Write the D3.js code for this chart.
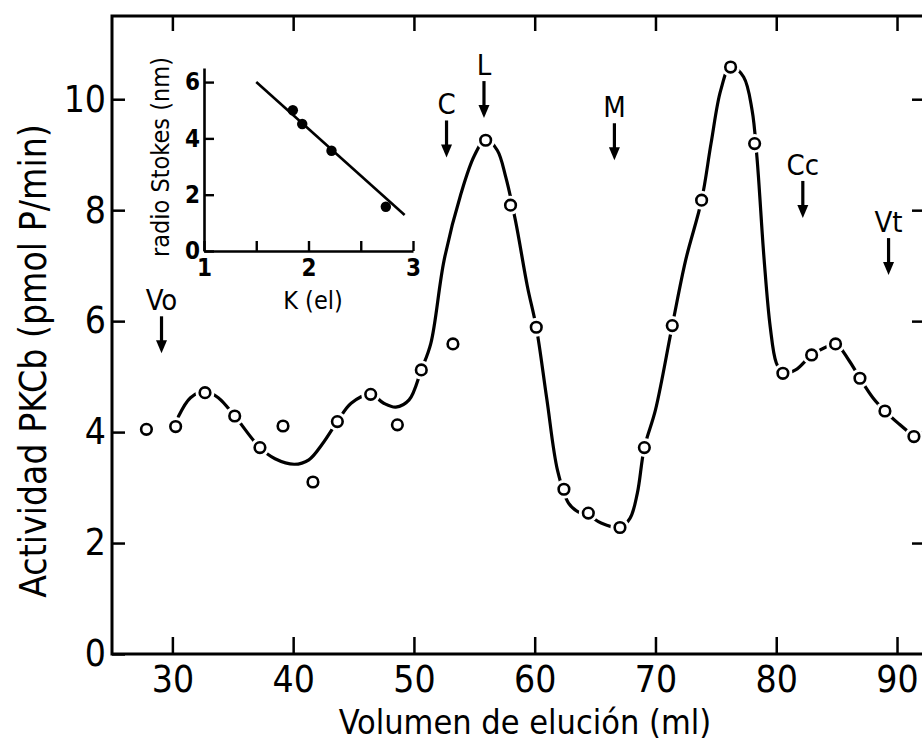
<!DOCTYPE html>
<html>
<head>
<meta charset="utf-8">
<script src="https://cdn.jsdelivr.net/npm/d3@7/dist/d3.min.js"></script>
<style>
  html, body { margin: 0; padding: 0; background: #fff; }
  svg { display: block; }
</style>
</head>
<body>
<svg id="chart" width="922" height="748"></svg>
<script>
// ---- Elution profile: fractions collected from the gel-filtration column ----
const volume = [27.85, 30.27, 32.70, 35.16, 37.25, 39.16, 41.64, 43.66, 46.42, 48.63,
                50.61, 53.23, 55.94, 58.00, 60.13, 62.42, 64.44, 67.06, 69.08, 71.39,
                73.82, 76.22, 78.21, 80.55, 82.93, 84.91, 86.93, 89.00, 91.40];
const activity = [4.05, 4.10, 4.71, 4.29, 3.72, 4.11, 3.10, 4.19, 4.68, 4.13,
                  5.12, 5.59, 9.26, 8.09, 5.89, 2.97, 2.54, 2.28, 3.72, 5.92,
                  8.18, 10.58, 9.20, 5.06, 5.39, 5.59, 4.97, 4.38, 3.92];

// Hand-drawn smooth profile through the fractions
const fitVolume = [30.5, 31.5, 32.7, 33.8, 35.16, 37.25, 38.5, 40.1, 41.3, 42.4,
                   43.66, 44.8, 46.42, 47.5, 48.5, 49.6, 50.61, 51.4, 52.5, 53.9,
                   55.0, 55.94, 56.9, 57.6, 58.4, 59.4, 60.13, 61.0, 61.9, 62.8,
                   63.6, 64.44, 65.5, 67.06, 67.9, 68.5, 69.08, 70.0, 71.39, 72.5,
                   73.82, 74.6, 75.4, 76.22, 77.3, 78.0, 78.4, 79.0, 79.5, 80.0,
                   80.55, 81.6, 82.93, 84.0, 84.91, 86.0, 86.93, 88.0, 89.0, 90.2, 91.4];
const fitActivity = [4.28, 4.62, 4.74, 4.62, 4.29, 3.72, 3.52, 3.42, 3.50, 3.78,
                     4.19, 4.52, 4.68, 4.52, 4.45, 4.58, 5.12, 5.60, 7.10, 8.30,
                     8.98, 9.28, 9.08, 8.60, 7.82, 6.62, 5.89, 4.60, 3.30, 2.72,
                     2.56, 2.50, 2.36, 2.28, 2.45, 2.90, 3.72, 4.40, 5.92, 7.10,
                     8.18, 9.20, 10.16, 10.60, 10.40, 9.80, 8.96, 7.10, 5.90, 5.25,
                     5.06, 5.12, 5.39, 5.52, 5.59, 5.30, 4.97, 4.62, 4.38, 4.14, 3.92];

// Calibration markers (void volume, standards, total volume)
const markerLabels = ["Vo", "C", "L", "M", "Cc", "Vt"];
const markerVolume = [29.1, 52.7, 55.8, 66.6, 82.2, 89.3];
const markerLevel  = [5.42, 8.95, 9.66, 8.90, 7.86, 6.83];

const xTicks = [30, 40, 50, 60, 70, 80, 90];
const yTicks = [0, 2, 4, 6, 8, 10];

// ---- Inset: Stokes radius of the standards vs. K(el) ----
const stdK      = [1.85, 1.94, 2.22, 2.74];
const stdRadius = [5.00, 4.51, 3.56, 1.57];
const calK      = [1.50, 2.92];
const calRadius = [6.00, 1.28];
const insetXTicks = [1, 1.5, 2, 2.5, 3];
const insetYTicks = [0, 2, 4, 6];

const FONT = '"DejaVu Sans Condensed", "DejaVu Sans", sans-serif';
const svg = d3.select("#chart");

// Main scales
const x = d3.scaleLinear().domain([25, 92.4]).range([112, 926]);
const y = d3.scaleLinear().domain([0, 11.5]).range([654, 16]);

// Frame
svg.append("rect")
  .attr("x", x(25)).attr("y", y(11.5))
  .attr("width", x(92.4) - x(25)).attr("height", y(0) - y(11.5))
  .attr("fill", "none").attr("stroke", "#000").attr("stroke-width", 3);

function styleAxis(g, size) {
  g.attr("font-family", FONT).attr("font-size", size);
  g.select(".domain").remove();
  g.selectAll(".tick line").attr("stroke", "#000").attr("stroke-width", 2.5);
  g.selectAll(".tick text").attr("fill", "#000");
}

svg.append("g").attr("transform", `translate(0,${y(0)})`)
  .call(d3.axisBottom(x).tickValues(xTicks).tickSizeInner(-17).tickSizeOuter(0).tickPadding(12))
  .call(g => styleAxis(g, 37));
svg.append("g").attr("transform", `translate(0,${y(11.5)})`)
  .call(d3.axisTop(x).tickValues(xTicks).tickSizeInner(-15).tickSizeOuter(0).tickFormat(""))
  .call(g => styleAxis(g, 10));
svg.append("g").attr("transform", `translate(${x(25)},0)`)
  .call(d3.axisLeft(y).tickValues(yTicks).tickSizeInner(-13).tickSizeOuter(0).tickPadding(6))
  .call(g => styleAxis(g, 37));
svg.append("g").attr("transform", `translate(${x(92.4)},0)`)
  .call(d3.axisRight(y).tickValues(yTicks.slice(1)).tickSizeInner(-14).tickSizeOuter(0).tickFormat(""))
  .call(g => styleAxis(g, 10));

// Axis titles
svg.append("text")
  .attr("x", 525).attr("y", 734)
  .attr("text-anchor", "middle").attr("font-family", FONT).attr("font-size", 34)
  .text("Volumen de elución (ml)");
svg.append("text")
  .attr("transform", "translate(46,361) rotate(-90)")
  .attr("text-anchor", "middle").attr("font-family", FONT).attr("font-size", 37)
  .text("Actividad PKCb (pmol P/min)");

// Fitted profile
const profile = d3.range(fitVolume.length).map(i => [fitVolume[i], fitActivity[i]]);
svg.append("path")
  .datum(profile)
  .attr("fill", "none").attr("stroke", "#000").attr("stroke-width", 3.2)
  .attr("stroke-linecap", "round")
  .attr("d", d3.line().x(d => x(d[0])).y(d => y(d[1])).curve(d3.curveCatmullRom.alpha(0.5)));

// Fractions: open circles, with a white halo that breaks the line around them
const fractions = d3.range(volume.length).map(i => ({ v: volume[i], a: activity[i] }));
svg.append("g").selectAll("circle").data(fractions).join("circle")
  .attr("cx", d => x(d.v)).attr("cy", d => y(d.a)).attr("r", 9.5)
  .attr("fill", "#fff");
svg.append("g").selectAll("circle").data(fractions).join("circle")
  .attr("cx", d => x(d.v)).attr("cy", d => y(d.a)).attr("r", 5.3)
  .attr("fill", "#fff").attr("stroke", "#000").attr("stroke-width", 2.6);

// Calibration arrows
const markers = markerLabels.map((m, i) => ({ label: m, v: markerVolume[i], level: markerLevel[i] }));
const mk = svg.append("g").selectAll("g").data(markers).join("g")
  .attr("transform", d => `translate(${x(d.v)},${y(d.level)})`);
mk.append("line")
  .attr("x1", 0).attr("x2", 0).attr("y1", -37).attr("y2", -9)
  .attr("stroke", "#000").attr("stroke-width", 3.2);
mk.append("path")
  .attr("d", "M-5.5,-13 L5.5,-13 L0,0 Z").attr("fill", "#000");
mk.append("text")
  .attr("y", -43).attr("text-anchor", "middle")
  .attr("font-family", FONT).attr("font-size", 29)
  .text(d => d.label);

// ---- Inset ----
const xi = d3.scaleLinear().domain([1, 3]).range([204, 413]);
const yi = d3.scaleLinear().domain([0, 6.5]).range([251, 68]);

function styleInsetAxis(g) {
  g.attr("font-family", FONT).attr("font-size", 24).attr("font-weight", "bold");
  g.select(".domain").attr("stroke", "#000").attr("stroke-width", 2.6);
  g.selectAll(".tick line").attr("stroke", "#000").attr("stroke-width", 2.4);
  g.selectAll(".tick text").attr("fill", "#000");
}

const gi = svg.append("g");
gi.append("g").attr("transform", `translate(0,${yi(0)})`)
  .call(d3.axisBottom(xi).tickValues(insetXTicks).tickSizeInner(-10).tickSizeOuter(0).tickPadding(8)
    .tickFormat(d => Number.isInteger(d) ? d3.format("d")(d) : ""))
  .call(styleInsetAxis);
gi.append("g").attr("transform", `translate(${xi(1)},0)`)
  .call(d3.axisLeft(yi).tickValues(insetYTicks).tickSizeInner(-10).tickSizeOuter(0).tickPadding(4)
    .tickFormat(d3.format("d")))
  .call(styleInsetAxis);

const calLine = d3.range(calK.length).map(i => [calK[i], calRadius[i]]);
gi.append("path").datum(calLine)
  .attr("fill", "none").attr("stroke", "#000").attr("stroke-width", 2.6)
  .attr("d", d3.line().x(d => xi(d[0])).y(d => yi(d[1])));

gi.append("g").selectAll("circle").data(d3.range(stdK.length)).join("circle")
  .attr("cx", i => xi(stdK[i])).attr("cy", i => yi(stdRadius[i])).attr("r", 5.2)
  .attr("fill", "#000");

gi.append("text")
  .attr("x", 313).attr("y", 309).attr("text-anchor", "middle")
  .attr("font-family", FONT).attr("font-size", 25)
  .text("K (el)");
gi.append("text")
  .attr("transform", "translate(169,157) rotate(-90)")
  .attr("text-anchor", "middle").attr("font-family", FONT).attr("font-size", 25)
  .text("radio Stokes (nm)");
</script>
</body>
</html>
